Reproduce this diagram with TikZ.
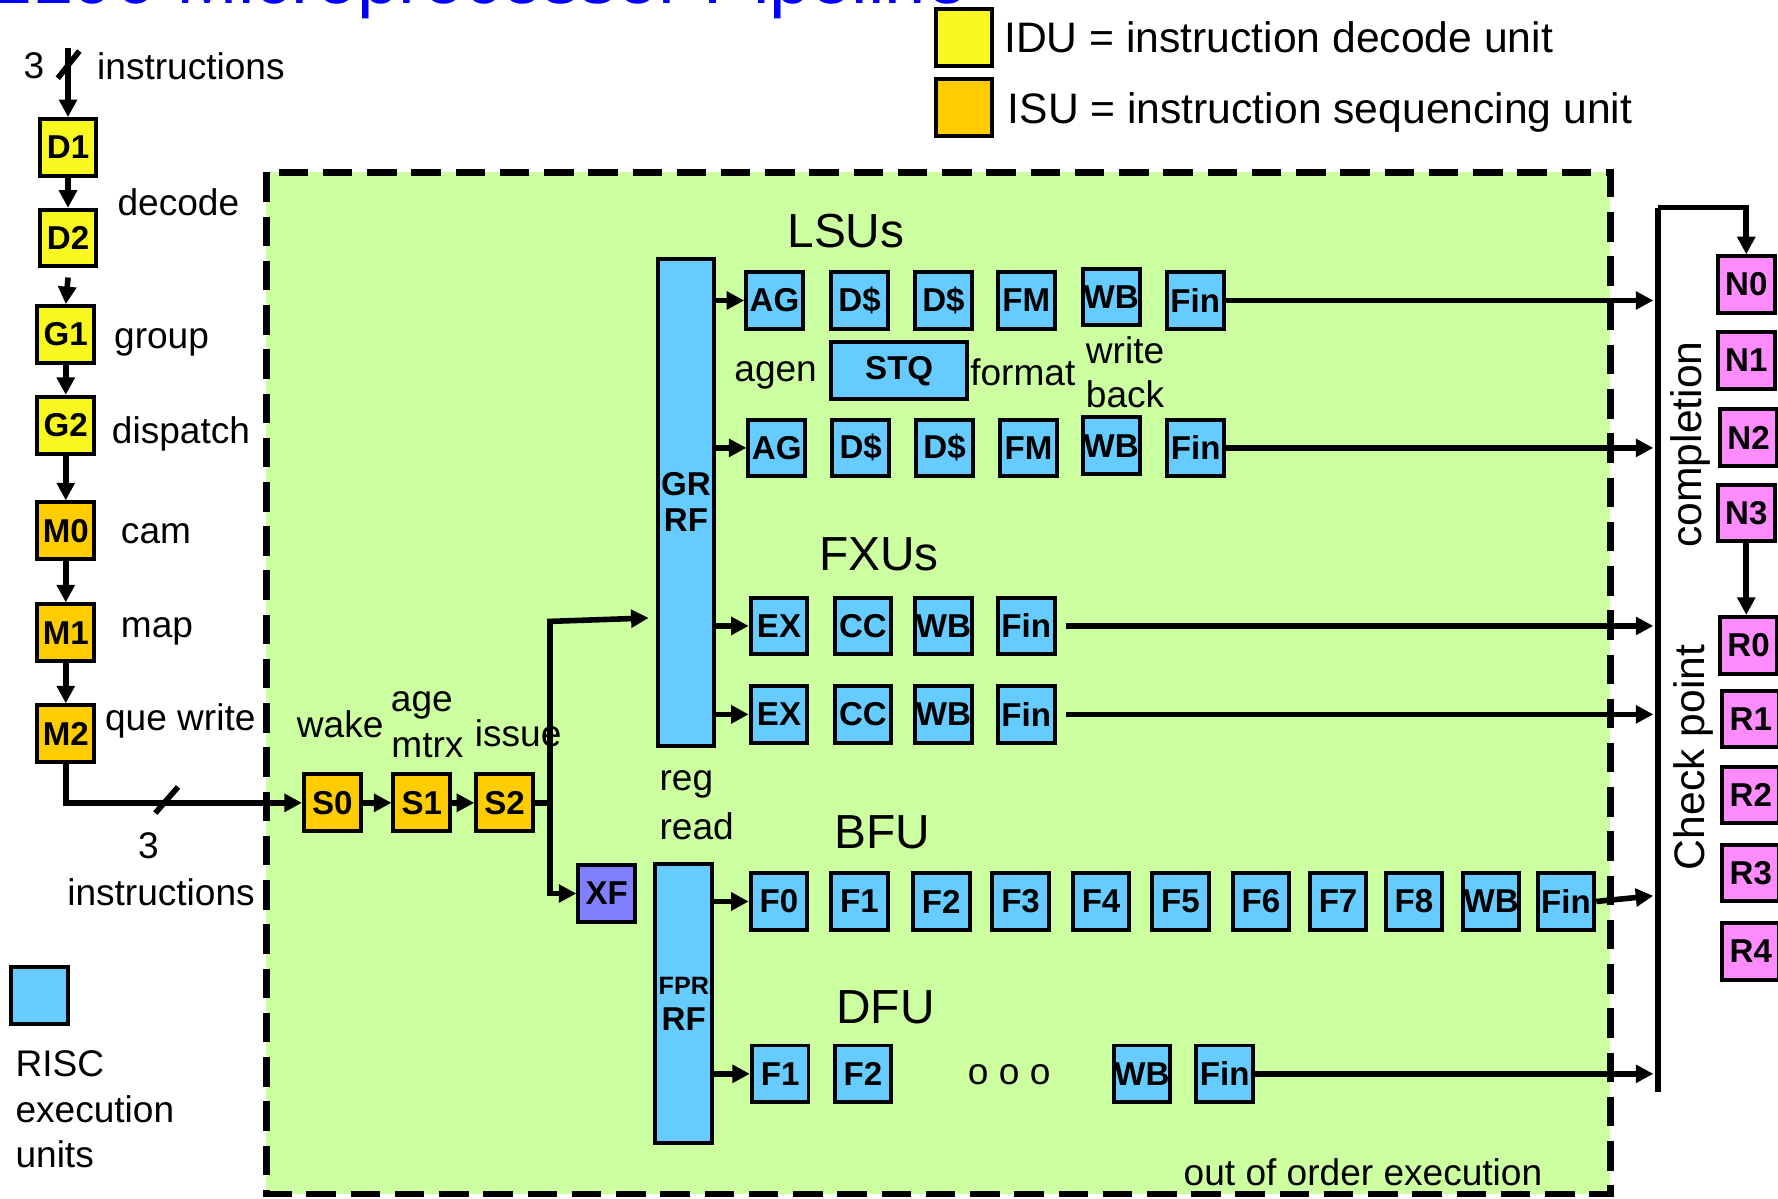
\documentclass[tikz,border=0pt]{standalone}
\usepackage{fontspec}
\setmainfont{Liberation Sans}
\usepackage{tikz}
\usetikzlibrary{arrows.meta}

\definecolor{riscblue}{RGB}{102,204,255}
\definecolor{iduyellow}{RGB}{248,248,32}
\definecolor{isuorange}{RGB}{255,204,0}
\definecolor{cmplpink}{RGB}{255,140,255}
\definecolor{xfblue}{RGB}{128,128,255}
\definecolor{ooogreen}{RGB}{204,255,160}

\begin{document}
\begin{tikzpicture}[
  >={Triangle[length=4.4pt,width=4.4pt]},
  unit/.style={draw, line width=1pt, minimum width=0.5cm, minimum height=0.5cm,
    inner sep=0pt, font=\bfseries\fontsize{8.3}{9}\selectfont},
  risc/.style={unit, fill=riscblue},
  idu/.style={unit, fill=iduyellow},
  isu/.style={unit, fill=isuorange},
  cmpl/.style={unit, fill=cmplpink},
  lbl/.style={inner sep=0pt, font=\fontsize{9.3}{11}\selectfont},
  legend/.style={inner sep=0pt, font=\fontsize{10.7}{12}\selectfont},
  grp/.style={inner sep=0pt, font=\fontsize{12}{14}\selectfont},
  wire/.style={line width=1.4pt}]
\useasboundingbox (0,0) rectangle (15.68,-10.57);

\node[anchor=base west, inner sep=0pt, text=blue, font=\fontsize{18.6}{20}\selectfont] (title) at (-0.05,-0.035) {z196 Microprocessor Pipeline};

% legend
\node[idu] (kidu) at (8.50,-0.33) {};
\node[legend, anchor=west] (tidu) at (8.85,-0.33) {IDU = instruction decode unit};
\node[isu] (kisu) at (8.50,-0.95) {};
\node[legend, anchor=west] (tisu) at (8.88,-0.99) {ISU = instruction sequencing unit};
\node[risc] (krisc) at (0.35,-8.78) {};
\node[lbl, anchor=west] at (0.13,-9.38) {RISC};
\node[lbl, anchor=west] at (0.13,-9.78) {execution};
\node[lbl, anchor=west] at (0.13,-10.18) {units};

% out of order region
\fill[ooogreen] (2.35,-1.52) rectangle (14.20,-10.53);

% decode and sequencing
\coordinate (in0) at (0.60,-0.42);
\node[lbl] at (0.30,-0.58) {3};
\node[lbl, anchor=west] at (0.85,-0.58) {instructions};
\node[idu] (d1) at (0.60,-1.30) {D1};
\node[idu] (d2) at (0.60,-2.10) {D2};
\node[idu] (g1) at (0.58,-2.95) {G1};
\node[idu] (g2) at (0.58,-3.75) {G2};
\node[isu] (m0) at (0.58,-4.68) {M0};
\node[isu] (m1) at (0.58,-5.58) {M1};
\node[isu] (m2) at (0.58,-6.47) {M2};
\node[lbl, anchor=west] at (1.03,-1.78) {decode};
\node[lbl, anchor=west] at (1.00,-3.02) {group};
\node[lbl, anchor=west] at (0.98,-3.83) {dispatch};
\node[lbl, anchor=west] at (1.06,-4.71) {cam};
\node[lbl, anchor=west] at (1.06,-5.57) {map};
\node[lbl, anchor=west] at (0.92,-6.36) {que write};
\draw[wire,->] (in0) -- (d1.north);
\draw[wire] (0.51,-0.69) -- (0.70,-0.45);
\draw[wire,->] (d1) -- (d2);
\draw[wire,->] ([yshift=-0.08cm]d2.south) -- (g1.north);
\draw[wire,->] (g1) -- (g2);
\draw[wire,->] (g2) -- (m0);
\draw[wire,->] (m0) -- (m1);
\draw[wire,->] (m1) -- (m2);

\node[isu] (s0) at (2.93,-7.08) {S0};
\node[isu] (s1) at (3.72,-7.08) {S1};
\node[isu] (s2) at (4.45,-7.08) {S2};
\node[lbl] at (3.00,-6.39) {wake};
\node[lbl] at (3.72,-6.22) {age};
\node[lbl] at (3.77,-6.58) {mtrx};
\node[lbl] at (4.57,-6.47) {issue};
\draw[wire,->] (m2.south) |- (s0.west);
\draw[wire] (1.37,-7.17) -- (1.57,-6.94);
\node[lbl] at (1.31,-7.46) {3};
\node[lbl] at (1.42,-7.87) {instructions};
\draw[wire,->] (s0) -- (s1);
\draw[wire,->] (s1) -- (s2);

% register files
\node[risc, minimum height=4.30cm, align=center] (grrf) at (6.05,-4.43) {GR\\RF};
\node[risc, minimum height=2.46cm, align=center] (fprrf) at (6.03,-8.85) {{\fontsize{6.3}{7}\selectfont FPR}\\RF};
\node[unit, fill=xfblue] (xf) at (5.35,-7.88) {XF};
\node[lbl, anchor=west] at (5.81,-6.92) {reg};
\node[lbl, anchor=west] at (5.81,-7.29) {read};
\coordinate (sj) at (4.85,-7.08);
\coordinate (grin) at (5.72,-5.45);
\draw[wire] (s2.east) -- (sj);
\draw[wire,->] (sj) -- (4.85,-5.48) -- (grin);
\draw[wire,->] (sj) |- (xf.west);

% LSUs
\node[grp] at (7.46,-2.04) {LSUs};
\node[risc] (ag1) at (6.83,-2.65) {AG};
\node[risc] (dca1) at (7.58,-2.65) {D\$};
\node[risc] (dcb1) at (8.32,-2.65) {D\$};
\node[risc] (fm1) at (9.05,-2.65) {FM};
\node[risc] (wb1) at (9.80,-2.62) {WB};
\node[risc] (fin1) at (10.54,-2.65) {Fin};
\node[risc, minimum width=1.20cm] (stq) at (7.93,-3.27) {STQ};
\node[lbl] at (6.84,-3.31) {agen};
\node[lbl] at (9.02,-3.28) {format};
\node[lbl, anchor=west] at (9.57,-3.09) {write};
\node[lbl, anchor=west] at (9.57,-3.48) {back};
\node[risc] (ag2) at (6.85,-3.95) {AG};
\node[risc] (dca2) at (7.59,-3.95) {D\$};
\node[risc] (dcb2) at (8.33,-3.95) {D\$};
\node[risc] (fm2) at (9.07,-3.95) {FM};
\node[risc] (wb2) at (9.80,-3.93) {WB};
\node[risc] (fin2) at (10.545,-3.95) {Fin};

% FXUs
\node[grp] at (7.75,-4.89) {FXUs};
\node[risc] (ex1) at (6.87,-5.52) {EX};
\node[risc] (cc1) at (7.61,-5.52) {CC};
\node[risc] (wbx1) at (8.32,-5.52) {WB};
\node[risc] (finx1) at (9.05,-5.52) {Fin};
\node[risc] (ex2) at (6.87,-6.30) {EX};
\node[risc] (cc2) at (7.61,-6.30) {CC};
\node[risc] (wbx2) at (8.32,-6.30) {WB};
\node[risc] (finx2) at (9.05,-6.30) {Fin};

% BFU
\node[grp] at (7.78,-7.34) {BFU};
\node[risc] (bf0) at (6.87,-7.95) {F0};
\node[risc] (bf1) at (7.58,-7.95) {F1};
\node[risc] (bf2) at (8.30,-7.95) {F2};
\node[risc] (bf3) at (9.00,-7.95) {F3};
\node[risc] (bf4) at (9.71,-7.95) {F4};
\node[risc] (bf5) at (10.41,-7.95) {F5};
\node[risc] (bf6) at (11.12,-7.95) {F6};
\node[risc] (bf7) at (11.80,-7.95) {F7};
\node[risc] (bf8) at (12.47,-7.95) {F8};
\node[risc] (wbb) at (13.15,-7.95) {WB};
\node[risc] (finb) at (13.81,-7.95) {Fin};

% DFU
\node[grp] at (7.81,-8.88) {DFU};
\node[risc] (df1) at (6.88,-9.47) {F1};
\node[risc] (df2) at (7.61,-9.47) {F2};
\node[lbl] (dots) at (8.90,-9.48) {o o o};
\node[risc] (wbd) at (10.07,-9.47) {WB};
\node[risc] (find) at (10.80,-9.47) {Fin};

\node[lbl] at (12.02,-10.34) {out of order execution};

% feeds from register files
\draw[wire,->] (grrf.east |- ag1) -- (ag1);
\draw[wire,->] (grrf.east |- ag2) -- (ag2);
\draw[wire,->] (grrf.east |- ex1) -- (ex1);
\draw[wire,->] (grrf.east |- ex2) -- (ex2);
\draw[wire,->] (fprrf.east |- bf0) -- (bf0);
\draw[wire,->] (fprrf.east |- df1) -- (df1);

% completion
\coordinate (bustop) at (14.62,-1.83);
\coordinate (busbot) at (14.62,-9.63);
\node[cmpl] (n0) at (15.40,-2.51) {N0};
\node[cmpl] (n1) at (15.40,-3.18) {N1};
\node[cmpl] (n2) at (15.42,-3.86) {N2};
\node[cmpl] (n3) at (15.40,-4.525) {N3};
\node[cmpl] (r0) at (15.42,-5.69) {R0};
\node[cmpl] (r1) at (15.44,-6.34) {R1};
\node[cmpl] (r2) at (15.44,-7.01) {R2};
\node[cmpl] (r3) at (15.44,-7.70) {R3};
\node[cmpl] (r4) at (15.44,-8.39) {R4};
\node[legend, rotate=90] at (14.91,-3.92) {completion};
\node[legend, rotate=90] at (14.93,-6.68) {Check point};
\draw[wire] (busbot) -- (bustop);
\draw[wire,->] (bustop) -| (n0.north);
\draw[wire,->] (n3.south) -- (n3.south |- r0.north);

\draw[wire,->] (fin1.east) -- ([xshift=-0.04cm]fin1.east -| bustop);
\draw[wire,->] (fin2.east) -- ([xshift=-0.04cm]fin2.east -| bustop);
\draw[wire,->] ([xshift=0.08cm]finx1.east) -- ([xshift=-0.04cm]finx1.east -| bustop);
\draw[wire,->] ([xshift=0.08cm]finx2.east) -- ([xshift=-0.04cm]finx2.east -| bustop);
\draw[wire,->] (finb.east) -- ([xshift=-0.04cm,yshift=0.05cm]finb.east -| bustop);
\draw[wire,->] (find.east) -- ([xshift=-0.04cm]find.east -| bustop);

\draw[line width=1.7pt, dash pattern=on 7.4pt off 3.7pt] (2.35,-1.52) rectangle (14.20,-10.53);
\end{tikzpicture}
\end{document}
